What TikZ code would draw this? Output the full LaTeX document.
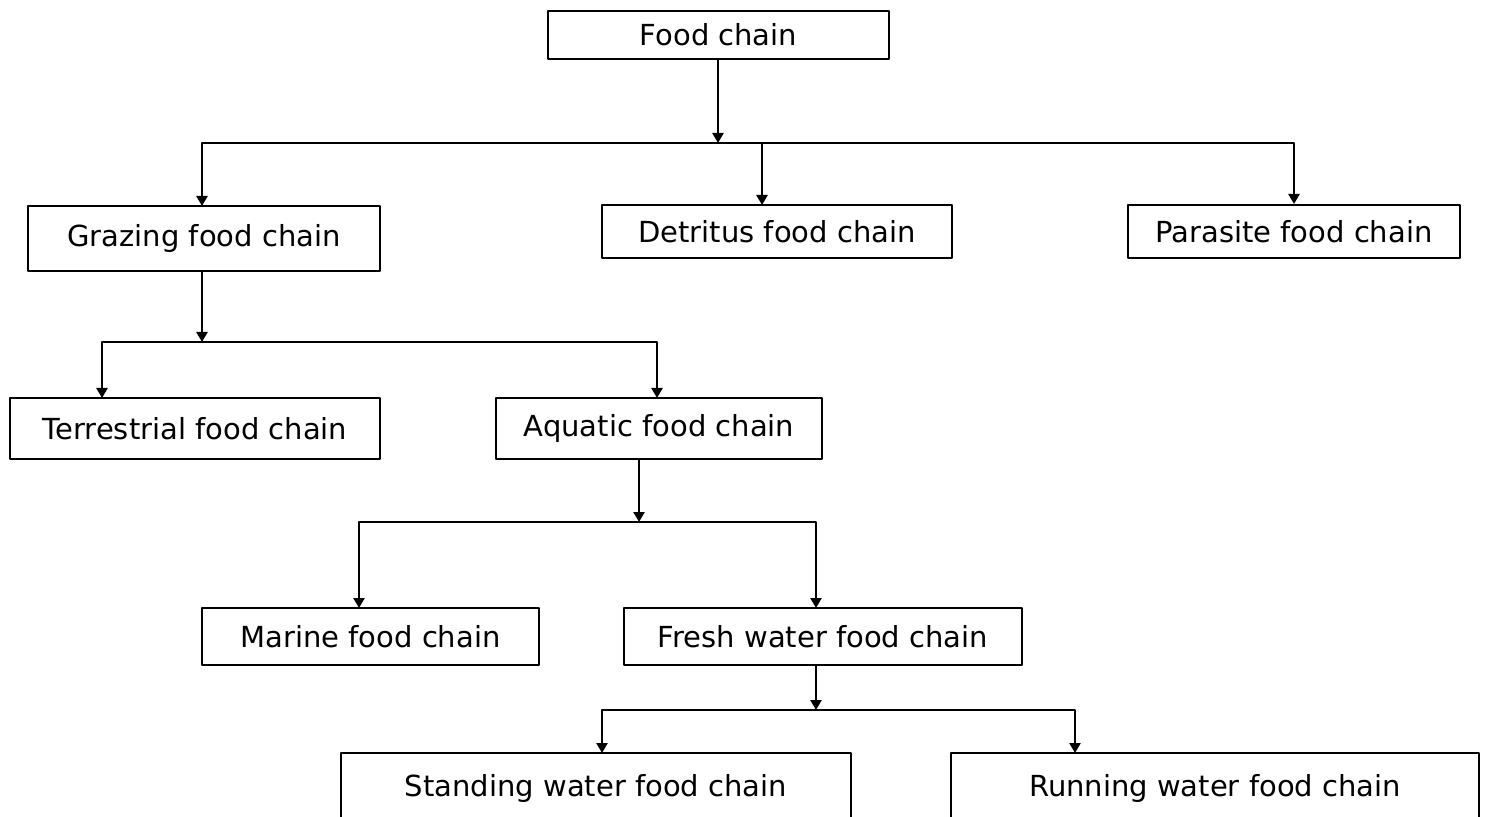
\documentclass[tikz,border=0pt]{standalone}
\usepackage{fontspec}
\setmainfont{DejaVu Sans}
\usetikzlibrary{arrows.meta}
\begin{document}
\begin{tikzpicture}[x=0.5pt,y=-0.5pt,font=\fontsize{14.5}{17}\selectfont,line join=round,>={Triangle[length=5pt,width=5.5pt]},
	box/.style={draw,line width=1pt,inner sep=0pt},
	link/.style={line width=1.2pt}]
	\useasboundingbox (0,0) rectangle (1486,817);
	% boxes
	\node[box,minimum width=170.5pt,minimum height=24pt] (food) at (718.5,35) {Food chain};
	\node[box,minimum width=176pt,minimum height=32.5pt] (grazing) at (204,238.5) {Grazing food chain};
	\node[box,minimum width=175pt,minimum height=26.5pt] (detritus) at (777,231.5) {Detritus food chain};
	\node[box,minimum width=166pt,minimum height=26.5pt] (parasite) at (1294,231.5) {Parasite food chain};
	\node[box,minimum width=185pt,minimum height=30.5pt] (terrestrial) at (195,428.5) {Terrestrial food chain};
	\node[box,minimum width=163pt,minimum height=30.5pt] (aquatic) at (659,428.5) {Aquatic food chain};
	\node[box,minimum width=168.5pt,minimum height=28.5pt] (marine) at (370.5,636.5) {Marine food chain};
	\node[box,minimum width=199pt,minimum height=28.5pt] (fresh) at (823,636.5) {Fresh water food chain};
	\node[box,minimum width=255pt,minimum height=35pt] (standing) at (596,788) {Standing water food chain};
	\node[box,minimum width=264pt,minimum height=35pt] (running) at (1215,788) {Running water food chain};
	% joints on the buses
	\coordinate (j1) at (718,143);
	\coordinate (j2) at (202,342);
	\coordinate (j3) at (639,522);
	\coordinate (j4) at (816,710);
	% arrow ends on the boxes
	\coordinate (tgrazing) at (202,206);
	\coordinate (tdetritus) at (762,205);
	\coordinate (tterrestrial) at (102,398);
	\coordinate (taquatic) at (657,398);
	\coordinate (tmarine) at (359,608);
	\coordinate (tfresh) at (816,608);
	\coordinate (tstanding) at (602,753);
	\coordinate (trunning) at (1075,753);
	% connectors
	\draw[link,->] (j1 |- food.south) -- (j1);
	\draw[link,->] (j1) -| (tgrazing);
	\draw[link,->] (j1) -| (tdetritus);
	\draw[link,->] (j1) -| (parasite.north);
	\draw[link,->] (tgrazing |- grazing.south) -- (j2);
	\draw[link,->] (j2) -| (tterrestrial);
	\draw[link,->] (j2) -| (taquatic);
	\draw[link,->] (j3 |- aquatic.south) -- (j3);
	\draw[link,->] (j3) -| (tmarine);
	\draw[link,->] (j3) -| (tfresh);
	\draw[link,->] (fresh.south -| j4) -- (j4);
	\draw[link,->] (j4) -| (tstanding);
	\draw[link,->] (j4) -| (trunning);
\end{tikzpicture}
\end{document}
